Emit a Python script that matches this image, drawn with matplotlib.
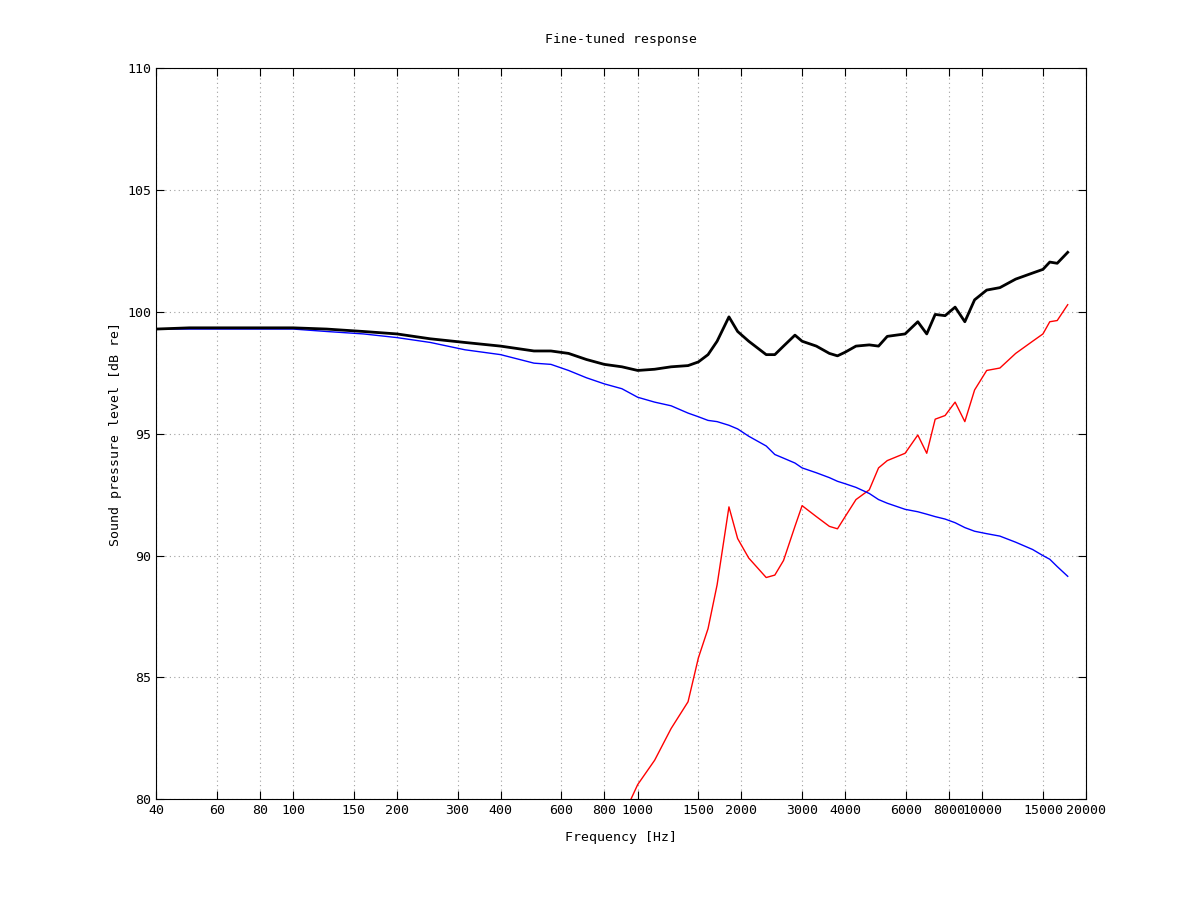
import matplotlib
matplotlib.use("Agg")
import matplotlib.pyplot as plt

freqs = [40, 50, 63, 80, 100, 125, 160, 200, 250, 315, 400, 500, 560, 630, 710, 800, 900,
         1000, 1120, 1250, 1400, 1500, 1600, 1700, 1840, 1950, 2100, 2360, 2500, 2650, 2860,
         3000, 3300, 3600, 3800, 4000, 4300, 4700, 5000, 5300, 5970, 6500, 6900, 7300, 7800,
         8340, 8900, 9500, 10300, 11250, 12500, 14000, 15000, 15700, 16500, 17700]

total = [99.3, 99.35, 99.35, 99.35, 99.35, 99.3, 99.2, 99.1, 98.9, 98.75, 98.6, 98.4, 98.4,
         98.3, 98.05, 97.85, 97.75, 97.6, 97.65, 97.75, 97.8, 97.95, 98.25, 98.8, 99.8, 99.2,
         98.8, 98.25, 98.25, 98.6, 99.05, 98.8, 98.6, 98.3, 98.2, 98.35, 98.6, 98.65, 98.6,
         99.0, 99.1, 99.6, 99.1, 99.9, 99.85, 100.2, 99.6, 100.5, 100.9, 101.0, 101.35, 101.6,
         101.75, 102.05, 102.0, 102.45]

blue = [99.3, 99.3, 99.3, 99.3, 99.3, 99.2, 99.1, 98.95, 98.75, 98.45, 98.25, 97.9, 97.85,
        97.6, 97.3, 97.05, 96.85, 96.5, 96.3, 96.15, 95.85, 95.7, 95.55, 95.5, 95.35, 95.2,
        94.9, 94.5, 94.15, 94.0, 93.8, 93.6, 93.4, 93.2, 93.05, 92.95, 92.8, 92.55, 92.3,
        92.15, 91.9, 91.8, 91.7, 91.6, 91.5, 91.35, 91.15, 91.0, 90.9, 90.8, 90.55, 90.25,
        90.0, 89.85, 89.55, 89.15]

red = [50, 52, 55, 58, 61, 64, 67, 69, 71, 73, 74.5, 76, 76.5, 77, 77.5, 78, 79.2, 80.6,
       81.6, 82.9, 84.0, 85.8, 87.0, 88.8, 92.0, 90.7, 89.9, 89.1, 89.2, 89.8, 91.2, 92.05,
       91.6, 91.2, 91.1, 91.6, 92.3, 92.7, 93.6, 93.9, 94.2, 94.95, 94.2, 95.6, 95.75, 96.3,
       95.5, 96.8, 97.6, 97.7, 98.3, 98.8, 99.1, 99.6, 99.65, 100.3]

xticks = [40, 60, 80, 100, 150, 200, 300, 400, 600, 800, 1000, 1500, 2000, 3000, 4000,
          6000, 8000, 10000, 15000, 20000]
yticks = [80, 85, 90, 95, 100, 105, 110]

plt.rcParams["font.family"] = "DejaVu Sans Mono"
fig = plt.figure(figsize=(12, 9), dpi=100)
ax = fig.add_axes([0.13, 0.112, 0.775, 0.812])

ax.plot(freqs, red, color="red", lw=1)
ax.plot(freqs, blue, color="blue", lw=1)
ax.plot(freqs, total, color="black", lw=2)

ax.set_xscale("log")
ax.set_xlim(40, 20000)
ax.set_ylim(80, 110)
ax.set_xticks(xticks)
ax.set_xticklabels([str(t) for t in xticks])
ax.minorticks_off()
ax.set_yticks(yticks)
ax.tick_params(direction="in", top=True, right=True, labelsize=9.5, length=6)
ax.grid(True, color="#a0a0a0", linestyle=(0, (1, 3)), lw=0.8)

ax.set_xlabel("Frequency [Hz]", fontsize=9.5, labelpad=10)
ax.set_ylabel("Sound pressure level [dB re]", fontsize=9.5)
ax.set_title("Fine-tuned response", fontsize=9.5, pad=18)

fig.savefig("out.png")
